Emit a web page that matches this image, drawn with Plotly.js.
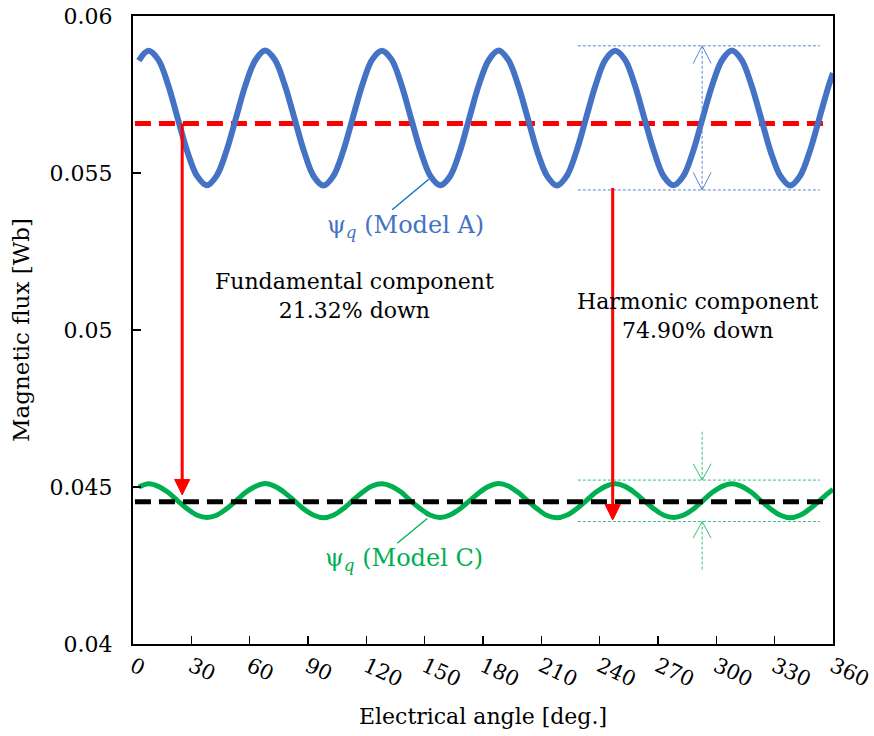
<!DOCTYPE html>
<html>
<head>
<meta charset="utf-8">
<script src="https://cdn.plot.ly/plotly-3.0.1.min.js"></script>
<style>html,body{margin:0;padding:0;background:#fff;}#chart{width:874px;height:736px;}</style>
</head>
<body>
<div id="chart"></div>
<script>
// Electrical angle [deg.]
const angle = [3,
  8,13,18,23,28,33,38,43,48,53,58,63,
  68,73,78,83,88,93,98,103,108,113,118,123,
  128,133,138,143,148,153,158,163,168,173,178,183,
  188,193,198,203,208,213,218,223,228,233,238,243,
  248,253,258,263,268,273,278,283,288,293,298,303,
  308,313,318,323,328,333,338,343,348,353,358,
  360];

// psi_q (Model A) [Wb]
const psiA = [0.05858,
  0.05889,0.05861,0.05782,0.05674,0.05567,0.05490,0.05461,0.05491,0.05569,0.05676,0.05783,0.05860,
  0.05890,0.05860,0.05781,0.05675,0.05568,0.05489,0.05460,0.05490,0.05568,0.05675,0.05782,0.05861,
  0.05889,0.05861,0.05782,0.05674,0.05568,0.05490,0.05461,0.05489,0.05567,0.05676,0.05783,0.05860,
  0.05890,0.05860,0.05781,0.05675,0.05567,0.05490,0.05460,0.05490,0.05568,0.05675,0.05782,0.05861,
  0.05889,0.05861,0.05782,0.05674,0.05568,0.05489,0.05461,0.05490,0.05568,0.05676,0.05782,0.05860,
  0.05890,0.05860,0.05781,0.05675,0.05567,0.05490,0.05460,0.05490,0.05568,0.05675,0.05782,
  0.05818];

// psi_q (Model C) [Wb]
const psiC = [0.04500,
  0.04510,0.04502,0.04483,0.04456,0.04430,0.04410,0.04403,0.04410,0.04430,0.04456,0.04483,0.04502,
  0.04511,0.04502,0.04482,0.04456,0.04429,0.04410,0.04402,0.04410,0.04430,0.04457,0.04483,0.04503,
  0.04510,0.04502,0.04483,0.04455,0.04430,0.04410,0.04403,0.04411,0.04430,0.04456,0.04482,0.04502,
  0.04511,0.04503,0.04483,0.04456,0.04430,0.04409,0.04402,0.04410,0.04430,0.04456,0.04483,0.04502,
  0.04510,0.04502,0.04482,0.04456,0.04430,0.04410,0.04403,0.04410,0.04429,0.04456,0.04483,0.04502,
  0.04510,0.04502,0.04483,0.04456,0.04430,0.04410,0.04402,0.04410,0.04430,0.04456,0.04483,
  0.04492];

// Fundamental (average) levels
const levelX = [1, 357];
const fundA = [0.05658, 0.05658];
const fundC = [0.04453, 0.04453];

// Axis ticks
const xTicks = [0,30,60,90,120,150,180,210,240,270,300,330,360];
const yTicks = [0.04,0.045,0.05,0.055,0.06];
const yTickText = ['0.04','0.045','0.05','0.055','0.06'];

const FONT = "DejaVu Serif";
const BLUE = '#4472C4', GREEN = '#00B050', RED = '#FF0000';
const DIMB = '#5B86D0', DIMG = '#33C07A';

const traces = [
  {x: levelX, y: fundA, mode: 'lines', line: {color: RED, width: 5, dash: '16px,8px'}, hoverinfo: 'skip'},
  {x: angle, y: psiA, mode: 'lines', line: {color: BLUE, width: 6, shape: 'spline', smoothing: 1}},
  {x: angle, y: psiC, mode: 'lines', line: {color: GREEN, width: 5, shape: 'spline', smoothing: 1}},
  {x: levelX, y: fundC, mode: 'lines', line: {color: '#000000', width: 5, dash: '16px,8px'}, hoverinfo: 'skip'}
];

const dimX0 = 228.8, dimX1 = 353.2, dimXc = 292.7, hw = 4.6;
const bTop = 0.05905, bBot = 0.05446, gTop = 0.04522, gBot = 0.04390;

// red arrows: [x, tail y, tip y]
const arrows = [[25.3, 0.05658, 0.04475], [246.7, 0.05452, 0.04395]];
const headHalf = 3.9, headLen = 0.00049;

const shapes = [
  // Model A ripple
  {type:'line', xref:'x', yref:'y', x0:dimX0, x1:dimX1, y0:bTop, y1:bTop, line:{color:DIMB, width:1, dash:'3px,2px'}},
  {type:'line', xref:'x', yref:'y', x0:dimX0, x1:dimX1, y0:bBot, y1:bBot, line:{color:DIMB, width:1, dash:'3px,2px'}},
  {type:'line', xref:'x', yref:'y', x0:dimXc, x1:dimXc, y0:bTop, y1:bBot, line:{color:DIMB, width:1, dash:'3px,2px'}},
  {type:'path', xref:'x', yref:'y', path:`M ${dimXc-hw} ${bTop-0.00056} L ${dimXc} ${bTop} L ${dimXc+hw} ${bTop-0.00056}`, line:{color:DIMB, width:1}},
  {type:'path', xref:'x', yref:'y', path:`M ${dimXc-hw} ${bBot+0.00056} L ${dimXc} ${bBot} L ${dimXc+hw} ${bBot+0.00056}`, line:{color:DIMB, width:1}},
  // Model C ripple
  {type:'line', xref:'x', yref:'y', x0:dimX0, x1:dimX1, y0:gTop, y1:gTop, line:{color:DIMG, width:1, dash:'3px,2px'}},
  {type:'line', xref:'x', yref:'y', x0:dimX0, x1:dimX1, y0:gBot, y1:gBot, line:{color:DIMG, width:1, dash:'3px,2px'}},
  {type:'line', xref:'x', yref:'y', x0:dimXc, x1:dimXc, y0:0.04676, y1:gTop, line:{color:DIMG, width:1, dash:'3px,2px'}},
  {type:'line', xref:'x', yref:'y', x0:dimXc, x1:dimXc, y0:gBot, y1:0.04236, line:{color:DIMG, width:1, dash:'3px,2px'}},
  {type:'path', xref:'x', yref:'y', path:`M ${dimXc-hw} ${gTop+0.00052} L ${dimXc} ${gTop} L ${dimXc+hw} ${gTop+0.00052}`, line:{color:DIMG, width:1}},
  {type:'path', xref:'x', yref:'y', path:`M ${dimXc-hw} ${gBot-0.00053} L ${dimXc} ${gBot} L ${dimXc+hw} ${gBot-0.00053}`, line:{color:DIMG, width:1}},
  // leader lines
  {type:'line', xref:'x', yref:'y', x0:152.1, x1:133.3, y0:0.05480, y1:0.05383, line:{color:'#0070C0', width:1.3}},
  {type:'line', xref:'x', yref:'y', x0:151.3, x1:135.9, y0:0.04400, y1:0.04321, line:{color:GREEN, width:1.3}}
];
arrows.forEach(([ax, y0, y1]) => {
  shapes.push({type:'line', xref:'x', yref:'y', x0:ax, x1:ax, y0:y0, y1:y1 + headLen*0.6, line:{color:RED, width:3}});
  shapes.push({type:'path', xref:'x', yref:'y', path:`M ${ax-headHalf} ${y1+headLen} L ${ax+headHalf} ${y1+headLen} L ${ax} ${y1} Z`, fillcolor:RED, line:{color:RED, width:1}});
});

const annotations = [
  {xref:'x', yref:'y', x:140, y:0.05329, text:'ψ<sub><i>q</i></sub> (Model A)', showarrow:false, font:{family:FONT, size:24, color:BLUE}},
  {xref:'x', yref:'y', x:139.6, y:0.04268, text:'ψ<sub><i>q</i></sub> (Model C)', showarrow:false, font:{family:FONT, size:24, color:GREEN}},
  {xref:'x', yref:'y', x:113.7, y:0.05108, text:'Fundamental component<br>21.32% down', showarrow:false, font:{family:FONT, size:22, color:'#000'}},
  {xref:'x', yref:'y', x:290.8, y:0.05045, text:'Harmonic component<br>74.90% down', showarrow:false, font:{family:FONT, size:22, color:'#000'}}
];

const layout = {
  width: 874, height: 736,
  margin: {l: 133, r: 41, t: 16, b: 92},
  paper_bgcolor: '#ffffff', plot_bgcolor: '#ffffff',
  showlegend: false,
  font: {family: FONT, size: 22, color: '#000'},
  xaxis: {
    range: [0, 360], tickvals: xTicks, ticktext: xTicks.map(String),
    ticks: 'inside', ticklen: 8, tickwidth: 1.5, tickcolor: '#000',
    showline: true, linewidth: 2, linecolor: '#000', mirror: true,
    showgrid: false, zeroline: false, tickangle: 25,
    ticklabeloverflow: 'allow',
    tickfont: {family: FONT, size: 21, color: '#000'},
    title: {text: 'Electrical angle [deg.]', font: {family: FONT, size: 22, color: '#000'}, standoff: 18}
  },
  yaxis: {
    range: [0.04, 0.06], tickvals: yTicks, ticktext: yTickText,
    ticks: 'inside', ticklen: 8, tickwidth: 1.5, tickcolor: '#000',
    showline: true, linewidth: 2, linecolor: '#000', mirror: true,
    showgrid: false, zeroline: false,
    tickfont: {family: FONT, size: 22, color: '#000'},
    ticklabelstandoff: 14,
    title: {text: 'Magnetic flux [Wb]', font: {family: FONT, size: 23, color: '#000'}, standoff: 14}
  },
  shapes: shapes,
  annotations: annotations
};

Plotly.newPlot('chart', traces, layout, {staticPlot: true, displayModeBar: false});
</script>
</body>
</html>
